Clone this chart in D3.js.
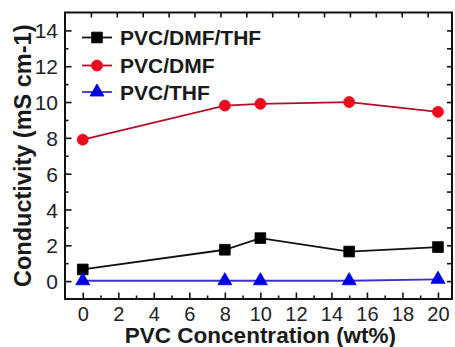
<!DOCTYPE html>
<html><head><meta charset="utf-8">
<script src="https://cdn.jsdelivr.net/npm/d3@7"></script>
<style>html,body{margin:0;padding:0;background:#fff;}svg{display:block;}</style>
</head><body>
<script>
const concentration = [0, 8, 10, 15, 20];
const dmfThf = [0.65, 1.75, 2.4, 1.65, 1.9];
const dmf = [7.9, 9.8, 9.9, 10.0, 9.45];
const thf = [0.02, 0.02, 0.02, 0.02, 0.1];
const seriesNames = ["PVC/DMF/THF", "PVC/DMF", "PVC/THF"];
const xTicks = [0, 2, 4, 6, 8, 10, 12, 14, 16, 18, 20];
const yTicks = [0, 2, 4, 6, 8, 10, 12, 14];
const xLabel = "PVC Concentration (wt%)";
const yLabel = "Conductivity (mS cm-1)";

const W = 455, H = 347;
const L = 65, R = 452, T = 12.5, B = 299;
const svg = d3.select("body").append("svg").attr("width", W).attr("height", H);
const x = d3.scaleLinear().domain([-1, 20.79]).range([L, R]);
const y = d3.scaleLinear().domain([-1, 15]).range([B, T]);
const xTop = d3.scaleLinear().domain([-1, 13.94]).range([L, R]);

const series = [
  {name: seriesNames[0], vals: dmfThf, line: "#111", fill: "#000", shape: d3.symbolSquare, size: 115},
  {name: seriesNames[1], vals: dmf, line: "#b0102a", fill: "#ee0a1e", shape: d3.symbolCircle, size: 95},
  {name: seriesNames[2], vals: thf, line: "#3a32c8", fill: "#0000e6", shape: d3.symbolTriangle, size: 85}
];

const font = "Liberation Sans, Arial, Helvetica, sans-serif";

// axes (inward ticks)
const minorX = d3.range(-1, 21, 1);
const minorY = d3.range(-1, 16, 1);
const g = svg.append("g");
g.append("g").attr("transform", `translate(0,${B})`)
  .call(d3.axisBottom(x).tickValues(minorX.filter(v => v % 2 !== 0 && v > -1)).tickSize(-3.5).tickFormat(""))
  .call(s => s.select(".domain").remove());
g.append("g").attr("transform", `translate(0,${B})`)
  .call(d3.axisBottom(x).tickValues(xTicks).tickSize(-6.5).tickFormat(d3.format("d")))
  .call(s => s.select(".domain").remove())
  .call(s => s.selectAll("text").attr("font-size", 20).attr("font-family", font).attr("fill", "#222").attr("dy", "0").attr("y", 21.5));
g.append("g").attr("transform", `translate(${L},0)`)
  .call(d3.axisLeft(y).tickValues(minorY.filter(v => v % 2 !== 0 && v > -1 && v < 15)).tickSize(-3.5).tickFormat(""))
  .call(s => s.select(".domain").remove());
g.append("g").attr("transform", `translate(${L},0)`)
  .call(d3.axisLeft(y).tickValues(yTicks).tickSize(-6.5).tickFormat(d3.format("d")))
  .call(s => s.select(".domain").remove())
  .call(s => s.selectAll("text").attr("font-size", 21).attr("font-family", font).attr("fill", "#222").attr("x", -7).attr("dy", "0.36em"));
g.append("g").attr("transform", `translate(${R},0)`)
  .call(d3.axisRight(y).tickValues(minorY.filter(v => v > -1 && v < 15)).tickSize(-5).tickFormat(""))
  .call(s => s.select(".domain").remove());
g.append("g").attr("transform", `translate(0,${T})`)
  .call(d3.axisTop(xTop).tickValues(d3.range(0, 14, 1)).tickSize(-5).tickFormat(""))
  .call(s => s.select(".domain").remove());
g.selectAll(".tick line").attr("stroke", "#111").attr("stroke-width", 1.6);

svg.append("rect").attr("x", L).attr("y", T).attr("width", R - L).attr("height", B - T)
  .attr("fill", "none").attr("stroke", "#111").attr("stroke-width", 2);

// data
const line = d3.line().x((d, i) => x(concentration[i])).y(d => y(d));
series.forEach(s => {
  svg.append("path").attr("d", line(s.vals)).attr("fill", "none").attr("stroke", s.line).attr("stroke-width", 1.8);
  svg.selectAll(null).data(s.vals).enter().append("path")
    .attr("d", d3.symbol().type(s.shape).size(s.size))
    .attr("transform", (d, i) => `translate(${x(concentration[i])},${y(d)})`)
    .attr("fill", s.fill).attr("stroke", s.fill).attr("stroke-width", 0.8);
});

// legend
const legY = [37.5, 65.5, 92];
series.forEach((s, i) => {
  const lg = svg.append("g").attr("transform", `translate(0,${legY[i]})`);
  lg.append("line").attr("x1", 82).attr("x2", 112).attr("y1", 0).attr("y2", 0)
    .attr("stroke", s.line).attr("stroke-width", 1.8);
  lg.append("path").attr("d", d3.symbol().type(s.shape).size(s.size)).attr("transform", "translate(97,0)")
    .attr("fill", s.fill).attr("stroke", s.fill).attr("stroke-width", 0.8);
  lg.append("text").attr("x", 120).attr("dy", "0.36em").attr("font-size", 21).attr("font-weight", "bold")
    .attr("font-family", font).attr("fill", "#1a1a1a").text(s.name);
});

// axis titles
svg.append("text").attr("x", (L + R) / 2 + 2).attr("y", 342.5).attr("text-anchor", "middle")
  .attr("font-size", 22.5).attr("font-weight", "bold").attr("font-family", font).attr("fill", "#1a1a1a").text(xLabel);
svg.append("text").attr("transform", `translate(31,${(T + B) / 2}) rotate(-90)`).attr("text-anchor", "middle")
  .attr("font-size", 23.5).attr("font-weight", "bold").attr("font-family", font).attr("fill", "#1a1a1a").text(yLabel);
</script>
</body></html>
